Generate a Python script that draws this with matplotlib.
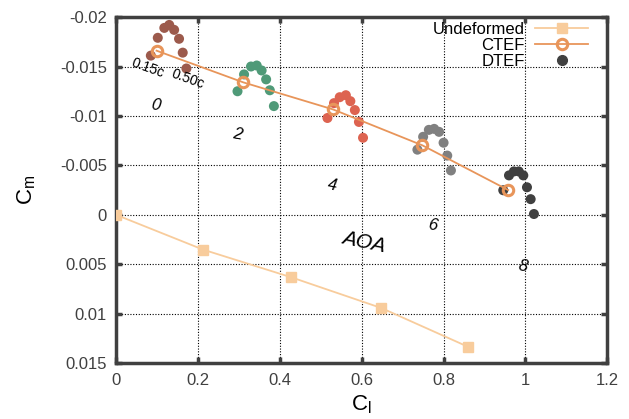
import numpy as np
import matplotlib
matplotlib.use("Agg")
import matplotlib.pyplot as plt

plt.rcParams['font.family'] = ['Liberation Sans', 'DejaVu Sans']
plt.rcParams['mathtext.default'] = 'regular'

# Undeformed airfoil
und_cl = [0.0, 0.212, 0.428, 0.648, 0.859]
und_cm = [0.0, 0.0035, 0.0063, 0.0094, 0.0133]

# CTEF
ctef_cl = [0.098, 0.310, 0.530, 0.748, 0.958]
ctef_cm = [-0.0166, -0.0134, -0.01066, -0.00704, -0.00252]

# DTEF groups, one per AOA (0.15c ... 0.50c)
dtef_cl = [
    [0.084, 0.101, 0.117, 0.129, 0.141, 0.153, 0.162, 0.171],
    [0.296, 0.312, 0.329, 0.343, 0.355, 0.366, 0.375, 0.385],
    [0.516, 0.532, 0.546, 0.561, 0.572, 0.583, 0.593, 0.603],
    [0.736, 0.750, 0.764, 0.777, 0.789, 0.800, 0.809, 0.818],
    [0.946, 0.960, 0.972, 0.984, 0.995, 1.004, 1.013, 1.021],
]
dtef_cm = [
    [-0.0161, -0.0179, -0.0189, -0.0192, -0.0187, -0.0178, -0.0164, -0.0148],
    [-0.0125, -0.0142, -0.0150, -0.0151, -0.0146, -0.0137, -0.0126, -0.0110],
    [-0.0098, -0.0113, -0.0119, -0.0121, -0.0115, -0.0106, -0.0094, -0.0078],
    [-0.0066, -0.0079, -0.0086, -0.0087, -0.0084, -0.0073, -0.0060, -0.0045],
    [-0.0025, -0.0040, -0.0044, -0.0044, -0.0040, -0.0028, -0.0016, -0.0001],
]
dtef_colors = ['#9c5a4c', '#4f9a78', '#dd6350', '#808080', '#404040']

aoa_labels = ['0', '2', '4', '6', '8']
aoa_pos = [(0.095, -0.0111), (0.295, -0.0081), (0.528, -0.003), (0.772, 0.001), (0.995, 0.0052)]

fig = plt.figure(figsize=(6.29, 4.19), dpi=100)
ax = fig.add_axes([0.1852, 0.1325, 0.7800, 0.8269])

for xs, ys, c in zip(dtef_cl, dtef_cm, dtef_colors):
    ax.scatter(xs, ys, s=52, color=c, edgecolors='none', zorder=2)

ax.plot(und_cl, und_cm, color='#f8cc9c', lw=1.3, marker='s', ms=7,
        mfc='#f8cc9c', mec='#f8cc9c', zorder=3, label='Undeformed')
ax.plot(ctef_cl, ctef_cm, color='#e8955a', lw=1.3, marker='o', ms=7.5,
        mfc='none', mec='#e8955a', mew=2.2, zorder=3, label='CTEF')
ax.plot([], [], ls='none', marker='o', ms=7, color='#404040', label='DTEF')

for lab, (x, y) in zip(aoa_labels, aoa_pos):
    ax.text(x, y, lab, fontsize=12, style='italic', rotation=-10,
            ha='center', va='center')
ax.text(0.605, 0.0027, 'AOA', fontsize=15, style='italic', rotation=-12,
        ha='center', va='center')
ax.text(0.077, -0.0148, '0.15c', fontsize=10, rotation=-20, ha='center', va='center')
ax.text(0.175, -0.0137, '0.50c', fontsize=10, rotation=-20, ha='center', va='center')

ax.set_xlim(0, 1.2)
ax.set_ylim(0.015, -0.02)
ax.set_xticks(np.arange(0, 1.21, 0.2))
ax.set_xticklabels(['0', '0.2', '0.4', '0.6', '0.8', '1', '1.2'])
ax.set_yticks([-0.02, -0.015, -0.01, -0.005, 0, 0.005, 0.01, 0.015])
ax.set_yticklabels(['-0.02', '-0.015', '-0.01', '-0.005', '0', '0.005', '0.01', '0.015'])

ax.grid(True, ls=(0, (1, 1.5)), color='black', lw=0.8)
for sp in ax.spines.values():
    sp.set_linewidth(2.5)
    sp.set_color('#404040')
ax.tick_params(direction='in', length=4, width=2.5, color='#404040',
               top=True, right=True, labelsize=12, labelcolor='#404040', pad=7)

ax.set_xlabel('C$_l$', fontsize=16, labelpad=4)
ax.set_ylabel('C$_m$', fontsize=16, labelpad=16)

ax.legend(loc='upper right', frameon=False, markerfirst=False, fontsize=12,
          handlelength=3.2, labelspacing=0.05, borderaxespad=0.0,
          handletextpad=0.6, bbox_to_anchor=(0.975, 1.005))

fig.savefig('out.png', dpi=100)
